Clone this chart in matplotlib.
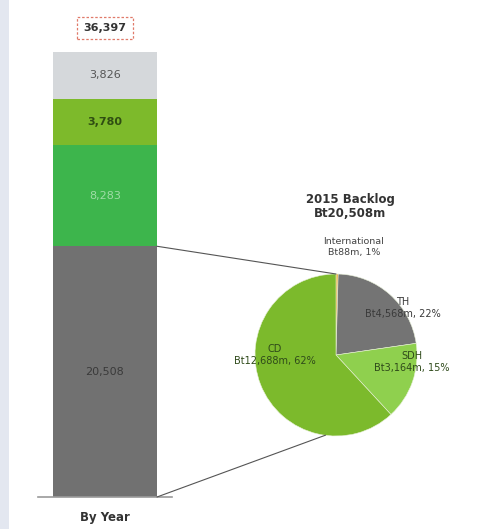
import matplotlib
matplotlib.use("Agg")
import matplotlib.pyplot as plt
from matplotlib.patches import ConnectionPatch, Rectangle

# Stacked bar "By Year" (bottom to top)
bar_values = [20508, 8283, 3780, 3826]
bar_labels = ["20,508", "8,283", "3,780", "3,826"]
bar_colors = ["#717171", "#3db54c", "#7dba2b", "#d5d8db"]
bar_text_colors = ["#3a3a3a", "#9fdca6", "#2f4d12", "#555555"]
bar_text_weights = ["normal", "normal", "bold", "normal"]
bar_total_label = "36,397"
bar_category = "By Year"

# 2015 backlog breakdown (clockwise from 12 o'clock)
pie_names = ["International", "TH", "SDH", "CD"]
pie_values = [88, 4568, 3164, 12688]
pie_labels = ["International\nBt88m, 1%", "TH\nBt4,568m, 22%",
              "SDH\nBt3,164m, 15%", "CD\nBt12,688m, 62%"]
pie_colors = ["#f0a830", "#747474", "#8fd04e", "#7cba2c"]
pie_title = "2015 Backlog\nBt20,508m"

W, H = 481, 529
fig = plt.figure(figsize=(W / 100, H / 100), dpi=100)
fig.patch.set_facecolor("white")


def px_box(left, top, right, bottom):
    """pixel box (from top-left) -> figure fraction rect"""
    return [left / W, 1 - bottom / H, (right - left) / W, (bottom - top) / H]


# faint decorative strip on the left edge
fig.patches.append(Rectangle((0, 0), 9 / W, 1, transform=fig.transFigure,
                             facecolor="#e3e7f0", edgecolor="none", zorder=0))

# ---- stacked bar ----
ax = fig.add_axes(px_box(38, 52, 172, 497))
ax.set_xlim(-0.67, 0.67)
total = sum(bar_values)
ax.set_ylim(0, total)
bottom = 0
for v, lab, c, tc, tw in zip(bar_values, bar_labels, bar_colors,
                             bar_text_colors, bar_text_weights):
    ax.bar(0, v, width=1.04, bottom=bottom, color=c, edgecolor="none")
    ax.text(0, bottom + v / 2, lab, ha="center", va="center", fontsize=8,
            color=tc, fontweight=tw)
    bottom += v
ax.axhline(0, color="#9a9a9a", lw=1.2, clip_on=False)
ax.annotate(bar_total_label, xy=(0, total), xytext=(0, 24),
            textcoords="offset pixels", ha="center", va="center",
            fontsize=8, fontweight="bold", color="#333333",
            bbox=dict(boxstyle="square,pad=0.55", facecolor="white",
                      edgecolor="#e07a6a", linestyle=(0, (2, 1.5)), lw=0.9))
ax.text(0, 0, bar_category, ha="center", va="top", fontsize=8.5,
        fontweight="bold", color="#333333",
        transform=ax.transData + matplotlib.transforms.ScaledTranslation(
            0, -14 / 100, fig.dpi_scale_trans))
ax.axis("off")

# ---- pie ----
pax = fig.add_axes(px_box(255, 274, 417, 436))
wedges, _ = pax.pie(pie_values, colors=pie_colors, startangle=90,
                    counterclock=False, radius=1,
                    wedgeprops=dict(edgecolor="#e8f0d8", linewidth=0.4))
pax.set_xlim(-1, 1)
pax.set_ylim(-1, 1)


def to_pie(px, py):
    return (px - 336) / 81, (355 - py) / 81


pie_label_px = [(354, 247), (403, 308), (412, 362), (275, 355)]
pie_label_colors = ["#444444", "#3a3a3a", "#2f4a1a", "#2f4a1a"]
pie_label_sizes = [6.8, 7, 7, 7]
for lab, (px, py), tc, fs in zip(pie_labels, pie_label_px,
                                 pie_label_colors, pie_label_sizes):
    x, y = to_pie(px, py)
    pax.text(x, y, lab, ha="center", va="center", fontsize=fs, color=tc,
             linespacing=1.15, clip_on=False)
tx, ty = to_pie(350, 206)
pax.text(tx, ty, pie_title, ha="center", va="center", fontsize=8.5,
         fontweight="bold", color="#333333", linespacing=1.1, clip_on=False)

# ---- connector lines ----
for ya, xb, yb in [(bar_values[0], 0.0, 1.0), (0, -0.13, -0.99)]:
    con = ConnectionPatch(xyA=(0.52, ya), coordsA=ax.transData,
                          xyB=(xb, yb), coordsB=pax.transData,
                          color="#555555", lw=0.8)
    fig.add_artist(con)

fig.savefig("out.png", dpi=100)
